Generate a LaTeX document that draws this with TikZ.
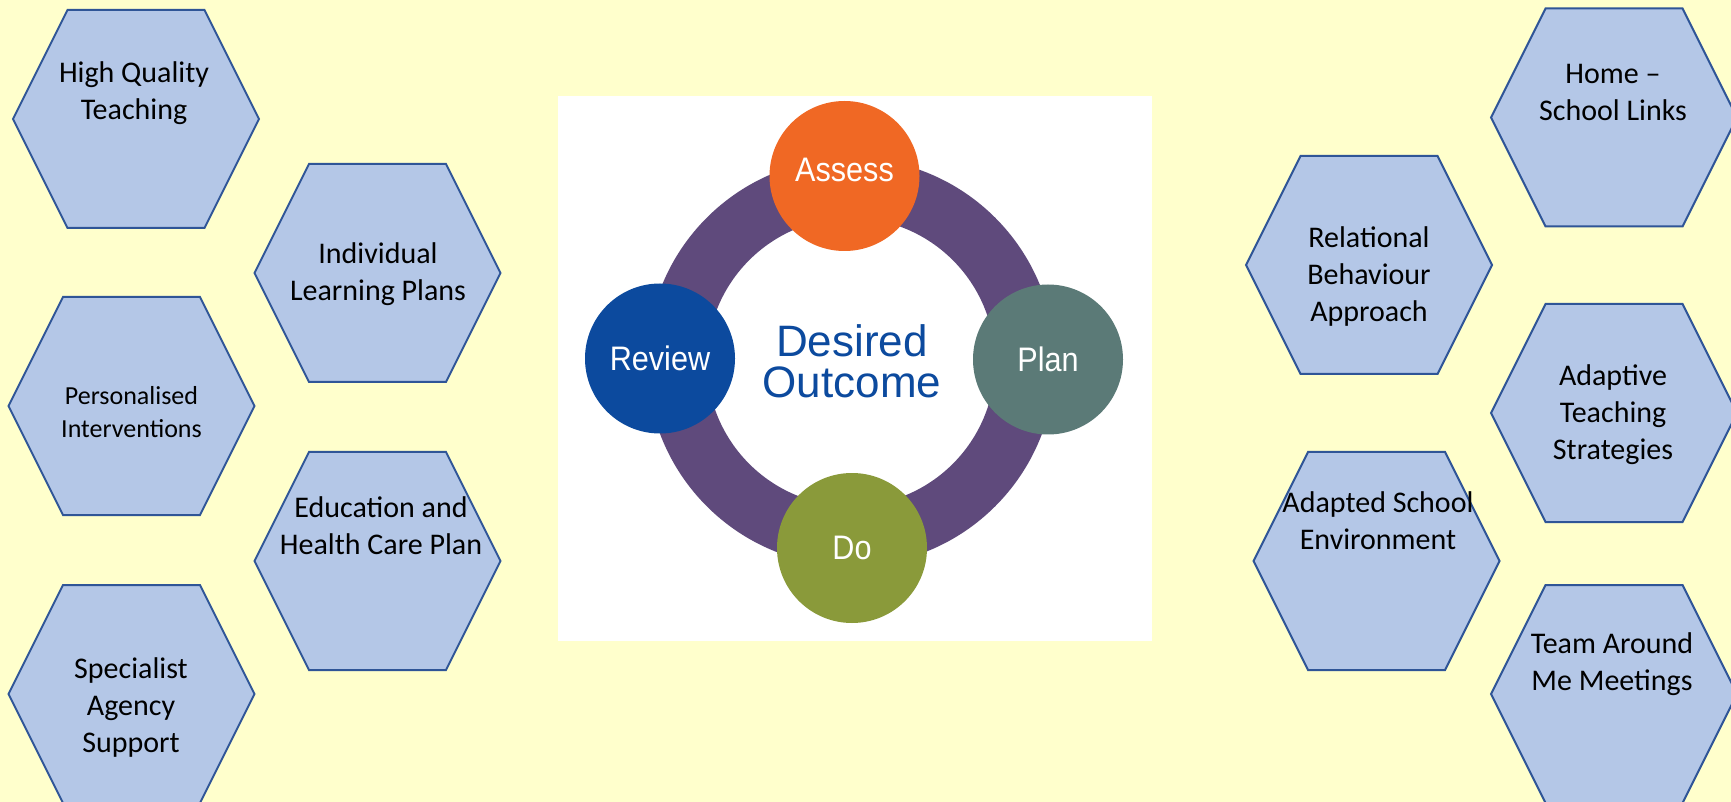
\documentclass[tikz,border=0pt]{standalone}
\usepackage{fontspec}
\setmainfont{Carlito}
\newfontfamily\arialfont{Liberation Sans}
\newfontfamily\narrowfont[FakeStretch=0.9]{Liberation Sans}
\definecolor{bgyellow}{HTML}{FFFFCC}
\definecolor{hexfill}{HTML}{B4C7E7}
\definecolor{hexline}{HTML}{2F5597}
\definecolor{ringpurple}{HTML}{5F4A7C}
\definecolor{assessorange}{HTML}{F06824}
\definecolor{reviewblue}{HTML}{0C4A9E}
\definecolor{planteal}{HTML}{5B7A77}
\definecolor{doolive}{HTML}{8A9A3A}
\definecolor{outblue}{HTML}{0C4A9E}
\begin{document}
\begin{tikzpicture}[x=0.5pt,y=-0.5pt,
    hexa/.pic={\draw[line width=1pt,draw=hexline,fill=hexfill]
       (-123,0) -- (-68.5,-109) -- (68.5,-109) -- (123,0)
       -- (68.5,109) -- (-68.5,109) -- cycle;},
    hext/.style={anchor=north,inner sep=0pt,align=center,
       font=\fontsize{15}{18.5}\selectfont},
    stage/.style={circle,minimum size=75pt,inner sep=0pt,text=white,
       font=\narrowfont\fontsize{17}{20}\selectfont}]
  \fill[bgyellow] (0,0) rectangle (1731,802);
  \useasboundingbox (0,0) rectangle (1731,802);
  % left column
  \pic at (136,119) {hexa};
  \node[hext] (hqt) at (134,61) {High Quality\\Teaching};
  \pic at (377.5,273) {hexa};
  \node[hext] (ilp) at (378,242) {Individual\\Learning Plans};
  \pic at (131.5,406) {hexa};
  \node[hext,font=\fontsize{13}{16.5}\selectfont] (pint) at (131.5,386)
       {Personalised\\Interventions};
  \pic at (377.5,561) {hexa};
  \node[hext] (ehcp) at (381,496) {Education and\\Health Care Plan};
  \pic at (131.5,694) {hexa};
  \node[hext] (sas) at (131,657) {Specialist\\Agency\\Support};
  % cycle in the middle
  \fill[white] (558,96) rectangle (1152,641);
  \draw[ringpurple,line width=30pt] (851,362) circle[radius=174];
  \node[stage,fill=assessorange,text depth=6pt] (assess) at (844.5,176) {Assess};
  \node[stage,fill=planteal] (plan) at (1048,359.5) {Plan};
  \node[stage,fill=doolive] (do) at (852,548) {Do};
  \node[stage,fill=reviewblue] (review) at (660,358.5) {Review};
  \node[text=outblue,align=center,
       font=\arialfont\fontsize{22}{20.5}\selectfont] (outcome)
       at (852,361) {Desired\\Outcome};
  % right column
  \pic at (1614,117.5) {hexa};
  \node[hext] (hsl) at (1613,64) {Home --\\School Links};
  \pic at (1369,265) {hexa};
  \node[hext] (rba) at (1369,226) {Relational\\Behaviour\\Approach};
  \pic at (1614,413) {hexa};
  \node[hext] (ats) at (1613,364) {Adaptive\\Teaching\\Strategies};
  \pic at (1376.5,561) {hexa};
  \node[hext] (ase) at (1378,491) {Adapted School\\Environment};
  \pic at (1614,694) {hexa};
  \node[hext] (tam) at (1612,632) {Team Around\\Me Meetings};
\end{tikzpicture}
\end{document}
